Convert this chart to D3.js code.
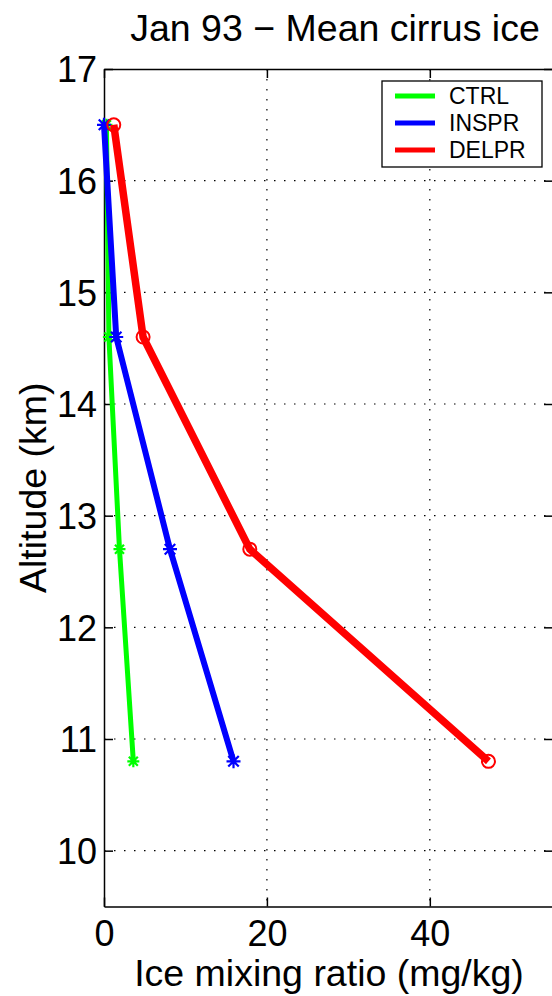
<!DOCTYPE html>
<html>
<head>
<meta charset="utf-8">
<script src="https://cdn.jsdelivr.net/npm/d3@7"></script>
<style>
  html, body { margin: 0; padding: 0; background: #fff; }
  svg { display: block; font-family: "Liberation Sans", Arial, Helvetica, sans-serif; }
</style>
</head>
<body>
<svg id="chart" width="552" height="996"></svg>
<script>
// Altitude levels (km) shared by the three runs
const altitudes = [16.5, 14.6, 12.7, 10.8];
// Mean cirrus ice mixing ratio (mg/kg) per run
const ctrl  = [0.3, 0.6, 1.9, 3.6];
const inspr = [0.0, 1.5, 8.1, 15.9];
const delpr = [1.2, 4.8, 17.9, 47.2];

const xTicks = [0, 20, 40];
const yTicks = [10, 11, 12, 13, 14, 15, 16, 17];

const series = [
  { name: "CTRL",  values: ctrl,  color: "#00ff00", width: 5, marker: "star", msize: 6 },
  { name: "INSPR", values: inspr, color: "#0000ff", width: 6, marker: "star", msize: 7 },
  { name: "DELPR", values: delpr, color: "#ff0000", width: 7.5, marker: "circle", msize: 6.5 }
];

const svg = d3.select("#chart");
const plotL = 104, plotR = 552, plotT = 69, plotB = 906.5;

const x = d3.scaleLinear().domain([0, 55]).range([plotL, plotR]);
const y = d3.scaleLinear().domain([9.5, 17]).range([plotB, plotT]);

// dotted grid
const grid = svg.append("g").attr("stroke", "#000").attr("stroke-width", 1.2)
  .attr("stroke-dasharray", "1.5,8.5");
grid.selectAll("line.gx").data(xTicks.filter(d => d > 0)).join("line")
  .attr("x1", d => x(d)).attr("x2", d => x(d)).attr("y1", plotT).attr("y2", plotB);
grid.selectAll("line.gy").data(yTicks.filter(d => d > 9.5 && d < 17)).join("line")
  .attr("y1", d => y(d)).attr("y2", d => y(d)).attr("x1", plotL).attr("x2", plotR);

// axes: inward ticks on all four sides
const tickLen = 9;
const axBottom = d3.axisBottom(x).tickValues(xTicks).tickSizeInner(-tickLen).tickSizeOuter(0).tickPadding(14);
const axTop = d3.axisTop(x).tickValues(xTicks).tickSizeInner(-tickLen).tickSizeOuter(0).tickFormat("");
const axLeft = d3.axisLeft(y).tickValues(yTicks).tickSizeInner(-tickLen).tickSizeOuter(0).tickPadding(7);
const axRight = d3.axisRight(y).tickValues(yTicks).tickSizeInner(-tickLen).tickSizeOuter(0).tickFormat("");

function styleAxis(g) {
  g.select(".domain").attr("stroke", "#000").attr("stroke-width", 1.5);
  g.selectAll(".tick line").attr("stroke", "#000").attr("stroke-width", 1.5);
  g.selectAll(".tick text").attr("fill", "#000").style("font-size", "36px")
    .style("font-family", "'Liberation Sans', Arial, sans-serif");
}

svg.append("g").attr("transform", `translate(0,${plotB})`).call(axBottom).call(styleAxis)
  .selectAll(".tick text").attr("dy", "0.71em");
svg.append("g").attr("transform", `translate(0,${plotT})`).call(axTop).call(styleAxis);
svg.append("g").attr("transform", `translate(${plotL},0)`).call(axLeft).call(styleAxis)
  .selectAll(".tick text").attr("dy", "0.36em");
svg.append("g").attr("transform", `translate(${plotR + 1},0)`).call(axRight).call(styleAxis);

// data lines with markers
const line = d3.line().x(d => x(d.v)).y(d => y(d.a));
const plot = svg.append("g");
series.forEach(s => {
  const pts = s.values.map((v, i) => ({ v, a: altitudes[i] }));
  plot.append("path").datum(pts).attr("d", line)
    .attr("fill", "none").attr("stroke", s.color).attr("stroke-width", s.width)
    .attr("stroke-linejoin", "miter");
  const m = plot.append("g");
  pts.forEach(p => {
    const cx = x(p.v), cy = y(p.a), r = s.msize;
    if (s.marker === "circle") {
      m.append("circle").attr("cx", cx).attr("cy", cy).attr("r", r)
        .attr("fill", "none").attr("stroke", s.color).attr("stroke-width", 2);
    } else {
      const d = r * 0.75;
      m.append("path")
        .attr("d", `M${cx - r},${cy}L${cx + r},${cy}M${cx},${cy - r}L${cx},${cy + r}` +
                   `M${cx - d},${cy - d}L${cx + d},${cy + d}M${cx - d},${cy + d}L${cx + d},${cy - d}`)
        .attr("stroke", s.color).attr("stroke-width", 2.2).attr("fill", "none");
    }
  });
});

// title and axis labels
svg.append("text").attr("x", 335).attr("y", 41).attr("text-anchor", "middle")
  .style("font-size", "37.5px").attr("fill", "#000").text("Jan 93 \u2212 Mean cirrus ice");
svg.append("text").attr("x", 329).attr("y", 986).attr("text-anchor", "middle")
  .style("font-size", "37.5px").attr("fill", "#000").text("Ice mixing ratio (mg/kg)");
svg.append("text").attr("transform", `translate(46,${(plotT + plotB) / 2}) rotate(-90)`)
  .attr("text-anchor", "middle").style("font-size", "37.5px").attr("fill", "#000")
  .text("Altitude (km)");

// legend
const lg = svg.append("g");
lg.append("rect").attr("x", 382).attr("y", 81).attr("width", 160).attr("height", 86)
  .attr("fill", "#fff").attr("stroke", "#000").attr("stroke-width", 1.3);
const rowY = [96, 123, 150];
series.forEach((s, i) => {
  lg.append("line").attr("x1", 395).attr("x2", 435).attr("y1", rowY[i]).attr("y2", rowY[i])
    .attr("stroke", s.color).attr("stroke-width", 5);
  lg.append("text").attr("x", 449).attr("y", rowY[i]).attr("dy", "0.36em")
    .style("font-size", "23px").attr("fill", "#000").text(s.name);
});
</script>
</body>
</html>
